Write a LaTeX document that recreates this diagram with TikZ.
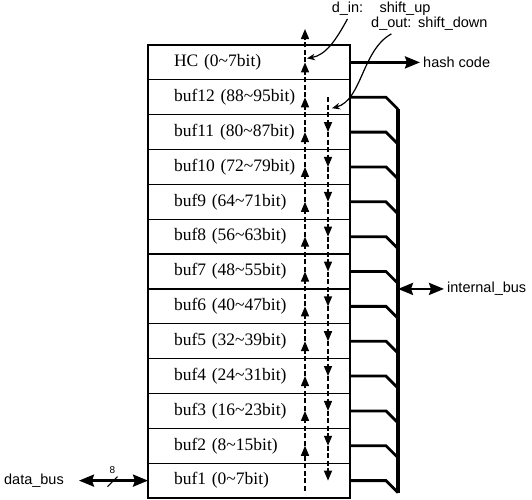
\documentclass[tikz,border=0pt]{standalone}
\usepackage{fontspec}
\setmainfont{Liberation Serif}
\setsansfont{Liberation Sans}
\usetikzlibrary{arrows.meta, positioning, calc}

\begin{document}
\begin{tikzpicture}[
    x=1pt, y=-1pt,
    every node/.style={font=\sffamily},
    cell/.style={
        rectangle, draw=black, line width=1.3pt, outer sep=0pt,
        minimum width=202pt, minimum height=34.85pt,
        text width=150pt, inner xsep=26pt, align=left,
        font=\rmfamily\fontsize{17.5}{19}\selectfont
    },
    lbl/.style={font=\sffamily\fontsize{14.5}{16}\selectfont, inner sep=3pt},
    bus/.style={line width=2.8pt},
    flow/.style={-{Stealth[length=15pt, width=12pt, inset=2pt]}, line width=2.6pt},
    bidir/.style={{Stealth[length=15pt, width=12pt, inset=2pt]}-{Stealth[length=15pt, width=12pt, inset=2pt]}, line width=2.6pt},
    shiftup/.style={-{Triangle[length=10pt, width=8pt]}, line width=1.4pt,
        dash pattern=on 5pt off 2.5pt},
    shiftdown/.style={shiftup},
    pointer/.style={-{Stealth[length=8pt, width=6.5pt]}, line width=1.2pt},
]
\useasboundingbox (0,0) rectangle (532,499);

% ===== Register file: HC on top, buf12 ... buf1 below =====
\node[cell] (hc) at (249,62.4) {HC (0\textasciitilde7bit)};
\node[cell, below=0pt of hc] (buf12) {buf12 (88\textasciitilde95bit)};
\node[cell, below=0pt of buf12] (buf11) {buf11 (80\textasciitilde87bit)};
\node[cell, below=0pt of buf11] (buf10) {buf10 (72\textasciitilde79bit)};
\node[cell, below=0pt of buf10] (buf9) {buf9 (64\textasciitilde71bit)};
\node[cell, below=0pt of buf9] (buf8) {buf8 (56\textasciitilde63bit)};
\node[cell, below=0pt of buf8] (buf7) {buf7 (48\textasciitilde55bit)};
\node[cell, below=0pt of buf7] (buf6) {buf6 (40\textasciitilde47bit)};
\node[cell, below=0pt of buf6] (buf5) {buf5 (32\textasciitilde39bit)};
\node[cell, below=0pt of buf5] (buf4) {buf4 (24\textasciitilde31bit)};
\node[cell, below=0pt of buf4] (buf3) {buf3 (16\textasciitilde23bit)};
\node[cell, below=0pt of buf3] (buf2) {buf2 (8\textasciitilde15bit)};
\node[cell, below=0pt of buf2] (buf1) {buf1 (0\textasciitilde7bit)};

% ===== Hash code output =====
\node[lbl, right=70pt of hc] (hash) {hash code};
\draw[flow] (hc) -- (hash);

% ===== Internal bus: one tap per buffer =====
\foreach \b in {buf12,buf11,buf10,buf9,buf8,buf7,buf6,buf5,buf4,buf3,buf2,buf1}
    \draw[bus] (\b.east) -- ++(36,0) -- ++(12,12);
\coordinate (bustop) at ($(buf12.east)+(48,12)$);
\coordinate (busbot) at ($(buf1.east)+(48,12)$);
\draw[line width=3.2pt] (bustop) -- (busbot);

\coordinate (busjoin) at (bustop |- buf7.south);
\node[lbl, right=46pt of busjoin] (ibus) {internal\_bus};
\draw[bidir] (busjoin) -- (ibus);

% ===== Data bus into buf1 =====
\node[lbl, left=81pt of buf1] (databus) {data\_bus};
\draw[bidir, shorten <=12pt] (databus) -- (buf1);
\coordinate (slash) at ($(databus.east)!0.5!(buf1.west)+(5,1)$);
\draw[line width=1.1pt] ($(slash)+(-5,5)$) -- ($(slash)+(5,-5)$);
\node[font=\sffamily\fontsize{10}{10}\selectfont, above=4pt of slash] (width) {8};

% ===== Shift paths =====
\coordinate (inx) at (305,0);
\coordinate (outx) at (328,0);

% d_in: shift up, from buf1 to above HC
\coordinate (inbot) at ($(inx |- buf1)+(0,10)$);
\coordinate (intop) at (305,29);
\draw[shiftup] (inbot) -- (inx |- buf2);
\foreach \a/\b in {buf2/buf3,buf3/buf4,buf4/buf5,buf5/buf6,buf6/buf7,buf7/buf8,
                   buf8/buf9,buf9/buf10,buf10/buf11,buf11/buf12,buf12/hc}
    \draw[shiftup] (inx |- \a) -- (inx |- \b);
\draw[shiftup] (inx |- hc) -- (intop);

% d_out: shift down, from buf12 to buf1
\foreach \a/\b in {buf12/buf11,buf11/buf10,buf10/buf9,buf9/buf8,buf8/buf7,buf7/buf6,
                   buf6/buf5,buf5/buf4,buf4/buf3,buf3/buf2,buf2/buf1}
    \draw[shiftdown] (outx |- \a) -- (outx |- \b);

% ===== Labels for the shift paths =====
\node[lbl] (dinlbl) at (347.5,9) {d\_in:};
\node[lbl, right=10pt of dinlbl] (uplbl) {shift\_up};
\node[lbl, anchor=west] (doutlbl) at (368,24) {d\_out:};
\node[lbl, anchor=west] (downlbl) at (415,24) {shift\_down};

\coordinate (inpt) at ($(inx |- hc)+(2,-4)$);
\coordinate (outpt) at ($(outx |- buf12)+(4,11)$);
\draw[pointer] (dinlbl.south) .. controls (336,40) and (326,55) .. (inpt);
\draw[pointer] (doutlbl.south) .. controls (362,50) and (362,100) .. (outpt);

\end{tikzpicture}
\end{document}
